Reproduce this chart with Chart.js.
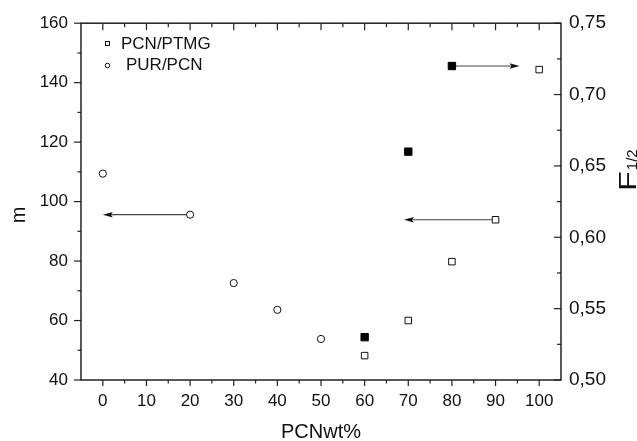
<!DOCTYPE html>
<html><head><meta charset="utf-8">
<script src="https://cdn.jsdelivr.net/npm/chart.js@4/dist/chart.umd.min.js"></script>
<style>html,body{margin:0;padding:0;background:#fff;}canvas{display:block}</style>
</head><body>
<canvas id="c" width="637" height="441"></canvas>
<script>
// ---- data ----
const seriesNames = ['PCN/PTMG', 'PUR/PCN'];
const ptmgX = [60, 70, 80, 90, 100];
const ptmgM = [48.2, 60, 79.8, 93.9, 144.4];
const purX = [0, 20, 30, 40, 50];
const purM = [109.4, 95.6, 72.6, 63.6, 53.8];
const fX = [60, 70, 80];
const fHalf = [0.53, 0.66, 0.72];
// arrows: start x, end x, level, axis
const arrowFrom = [20, 90, 80];
const arrowTo = [0, 69, 95.5];
const arrowLevel = [95.6, 93.9, 0.72];
const arrowAxis = ['y', 'y', 'y2'];
// ticks
const xTicks = [0, 10, 20, 30, 40, 50, 60, 70, 80, 90, 100];
const xMinor = [5, 15, 25, 35, 45, 55, 65, 75, 85, 95];
const mTicks = [40, 60, 80, 100, 120, 140, 160];
const mMinor = [50, 70, 90, 110, 130, 150];
const fTicks = [0.50, 0.55, 0.60, 0.65, 0.70, 0.75];
const fMinor = [0.525, 0.575, 0.625, 0.675, 0.725];
const xTitle = 'PCNwt%';
const yTitle = 'm';
const y2Title = 'F';
const y2Sub = '1/2';

const FONT = '"Liberation Sans", Arial, Helvetica, sans-serif';
const INK = '#111';

const deco = {
  id: 'deco',
  beforeDatasetsDraw(chart) {
    const ctx = chart.ctx, xs = chart.scales.x;
    ctx.save();
    arrowFrom.forEach((fx, i) => {
      const sc = chart.scales[arrowAxis[i]];
      const py = sc.getPixelForValue(arrowLevel[i]);
      const x0 = xs.getPixelForValue(fx), x1 = xs.getPixelForValue(arrowTo[i]);
      const d = Math.sign(x1 - x0);
      ctx.strokeStyle = '#444'; ctx.lineWidth = 1.2;
      ctx.beginPath(); ctx.moveTo(x0, py); ctx.lineTo(x1 - d * 7, py); ctx.stroke();
      ctx.fillStyle = INK;
      ctx.beginPath();
      ctx.moveTo(x1, py); ctx.lineTo(x1 - d * 10, py - 2.8);
      ctx.lineTo(x1 - d * 8, py); ctx.lineTo(x1 - d * 10, py + 2.8);
      ctx.closePath(); ctx.fill();
    });
    ctx.restore();
  },
  afterDraw(chart) {
    const ctx = chart.ctx, a = chart.chartArea;
    const xs = chart.scales.x, ys = chart.scales.y, y2 = chart.scales.y2;
    ctx.save();
    ctx.strokeStyle = '#222'; ctx.lineWidth = 1.5;
    ctx.strokeRect(a.left, a.top, a.right - a.left, a.bottom - a.top);
    ctx.lineWidth = 1.2;
    const seg = (x0, y0, x1, y1) => { ctx.beginPath(); ctx.moveTo(x0, y0); ctx.lineTo(x1, y1); ctx.stroke(); };
    xTicks.forEach(v => { const p = xs.getPixelForValue(v); seg(p, a.bottom, p, a.bottom + 6); seg(p, a.top, p, a.top + 7); });
    xMinor.forEach(v => { const p = xs.getPixelForValue(v); seg(p, a.bottom, p, a.bottom + 3.5); seg(p, a.top, p, a.top + 4); });
    mTicks.forEach(v => { const p = ys.getPixelForValue(v); seg(a.left - 7, p, a.left, p); });
    mMinor.forEach(v => { const p = ys.getPixelForValue(v); seg(a.left - 3.5, p, a.left, p); });
    fTicks.forEach(v => { const p = y2.getPixelForValue(v); seg(a.right - 7, p, a.right, p); });
    fMinor.forEach(v => { const p = y2.getPixelForValue(v); seg(a.right - 4, p, a.right, p); });

    ctx.fillStyle = INK;
    // x title
    ctx.font = '20px ' + FONT; ctx.textAlign = 'center'; ctx.textBaseline = 'alphabetic';
    ctx.fillText(xTitle, 321, 438);
    // left title
    ctx.save(); ctx.translate(24.5, 215); ctx.rotate(-Math.PI / 2);
    ctx.font = '20px ' + FONT; ctx.textAlign = 'center'; ctx.fillText(yTitle, 0, 0);
    ctx.restore();
    // right title with subscript
    ctx.save(); ctx.translate(636, 191); ctx.rotate(-Math.PI / 2);
    ctx.textAlign = 'left';
    ctx.save(); ctx.scale(1.35, 1); ctx.font = '24px ' + FONT; ctx.fillText(y2Title, 0, 0);
    const fw = ctx.measureText(y2Title).width * 1.35; ctx.restore();
    ctx.font = '15px ' + FONT; ctx.fillText(y2Sub, fw + 1, 1);
    ctx.restore();

    // legend
    const ds = chart.data.datasets;
    ctx.font = '17px ' + FONT; ctx.textAlign = 'left'; ctx.textBaseline = 'middle';
    ctx.lineWidth = 1; ctx.strokeStyle = INK; ctx.fillStyle = '#fff';
    ctx.fillRect(105.5, 41.5, 4, 4); ctx.strokeRect(105.5, 41.5, 4, 4);
    ctx.beginPath(); ctx.arc(107.5, 65.5, 2.3, 0, Math.PI * 2); ctx.fill(); ctx.stroke();
    ctx.fillStyle = INK;
    ctx.fillText(ds[0].label, 121, 44);
    ctx.fillText(ds[1].label, 126, 65.5);
    ctx.restore();
  }
};

const toPts = (xa, ya) => xa.map((v, i) => ({ x: v, y: ya[i] }));

new Chart(document.getElementById('c'), {
  type: 'scatter',
  data: {
    datasets: [
      { label: seriesNames[0], data: toPts(ptmgX, ptmgM), yAxisID: 'y', pointStyle: 'rect',
        pointRadius: 4.6, borderWidth: 1, borderColor: INK, backgroundColor: '#fff' },
      { label: seriesNames[1], data: toPts(purX, purM), yAxisID: 'y', pointStyle: 'circle',
        pointRadius: 3.6, borderWidth: 1, borderColor: INK, backgroundColor: '#fff' },
      { label: 'F1/2', data: toPts(fX, fHalf), yAxisID: 'y2', pointStyle: 'rect',
        pointRadius: 5.2, borderWidth: 1, borderColor: '#000', backgroundColor: '#000' }
    ]
  },
  options: {
    responsive: false, animation: false, devicePixelRatio: 1,
    layout: { padding: { top: 20, left: 0, right: 0, bottom: 0 } },
    plugins: { legend: { display: false }, tooltip: { enabled: false } },
    elements: { point: { hoverRadius: 0 } },
    scales: {
      x: { type: 'linear', position: 'bottom', min: -5, max: 105,
        afterBuildTicks: s => { s.ticks = xTicks.map(v => ({ value: v })); },
        afterFit: s => { s.height = 61; },
        grid: { display: false, drawTicks: false }, border: { display: false },
        ticks: { padding: 11, color: INK, font: { family: FONT, size: 17 }, callback: v => String(v) } },
      y: { type: 'linear', position: 'left', min: 40, max: 160,
        afterBuildTicks: s => { s.ticks = mTicks.map(v => ({ value: v })); },
        afterFit: s => { s.width = 81; },
        grid: { display: false, drawTicks: false }, border: { display: false },
        ticks: { padding: 13, color: INK, font: { family: FONT, size: 17 }, callback: v => String(v) } },
      y2: { type: 'linear', position: 'right', min: 0.5, max: 0.75,
        afterBuildTicks: s => { s.ticks = fTicks.map(v => ({ value: v })); },
        afterFit: s => { s.width = 76; },
        grid: { display: false, drawTicks: false }, border: { display: false },
        ticks: { padding: 8, color: INK, font: { family: FONT, size: 19 }, callback: v => v.toFixed(2).replace('.', ',') } }
    }
  },
  plugins: [deco]
});
</script>
</body></html>
